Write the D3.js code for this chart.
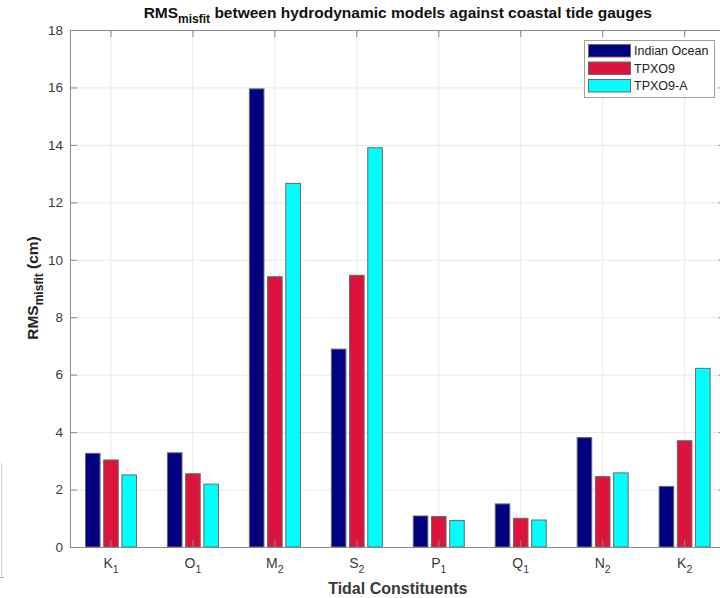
<!DOCTYPE html>
<html><head><meta charset="utf-8">
<script src="https://cdn.jsdelivr.net/npm/d3@7"></script>
<style>
html,body{margin:0;padding:0;background:#fff;overflow:hidden}
text{font-family:"Liberation Sans",Arial,Helvetica,sans-serif}
</style></head>
<body><svg id="c" width="720" height="598"></svg>
<script>
const categories = ["K1","O1","M2","S2","P1","Q1","N2","K2"];
const seriesNames = ["Indian Ocean","TPXO9","TPXO9-A"];
const indianOcean = [3.26, 3.28, 15.95, 6.89, 1.08, 1.50, 3.81, 2.11];
const tpxo9       = [3.03, 2.55, 9.41, 9.46, 1.06, 1.00, 2.45, 3.70];
const tpxo9A      = [2.51, 2.19, 12.66, 13.90, 0.92, 0.94, 2.58, 6.22];
const yTicks = [0,2,4,6,8,10,12,14,16,18];
const colors = ["#000080","#DC143C","#00FFFF"];

const seriesValues = [indianOcean, tpxo9, tpxo9A];
const data = categories.map((c,i)=>({cat:c, vals: seriesNames.map((s,j)=>({s, v: seriesValues[j][i], j}))}));

const svg = d3.select("#c");
const L = 70, R = 725.6, T = 30, B = 547;
const x0 = d3.scaleBand().domain(categories).range([L,R]).paddingInner(0).paddingOuter(0);
const bw = x0.bandwidth();
const x1 = d3.scaleBand().domain(seriesNames).range([bw*0.1667, bw*0.8333]).paddingInner(0.2).paddingOuter(0.1);
const y = d3.scaleLinear().domain([0,18]).range([B,T]);

const gridC = "#e8e8e8", axC = "#8a8a8a", txtC = "#3a3a3a";

// grid
const g = svg.append("g");
g.selectAll(".gy").data(yTicks).enter().append("line")
  .attr("x1",L).attr("x2",R).attr("y1",d=>y(d)+0.5).attr("y2",d=>y(d)+0.5)
  .attr("stroke",gridC).attr("stroke-width",1);
g.selectAll(".gx").data(categories).enter().append("line")
  .attr("x1",d=>x0(d)+bw/2).attr("x2",d=>x0(d)+bw/2).attr("y1",T).attr("y2",B)
  .attr("stroke",gridC).attr("stroke-width",1);

// bars
const groups = svg.append("g").selectAll("g").data(data).enter().append("g")
  .attr("transform",d=>`translate(${x0(d.cat)},0)`);
groups.selectAll("rect").data(d=>d.vals).enter().append("rect")
  .attr("x",d=>x1(d.s)).attr("width",x1.bandwidth())
  .attr("y",d=>y(d.v)).attr("height",d=>B - y(d.v))
  .attr("fill",d=>colors[d.j]).attr("stroke","#6a6a6a").attr("stroke-width",1);

// axes
const tl = 7;
const ax = svg.append("g").attr("fill","none").attr("stroke",axC).attr("stroke-width",1);
ax.append("rect").attr("x",L+0.5).attr("y",T+0.5).attr("width",R-L).attr("height",B-T);
ax.selectAll(".tyl").data(yTicks).enter().append("line")
  .attr("x1",L).attr("x2",L+tl).attr("y1",d=>y(d)+0.5).attr("y2",d=>y(d)+0.5);
ax.selectAll(".tyr").data(yTicks).enter().append("line")
  .attr("x1",R-tl).attr("x2",R).attr("y1",d=>y(d)+0.5).attr("y2",d=>y(d)+0.5);
ax.selectAll(".txb").data(categories).enter().append("line")
  .attr("x1",d=>x0(d)+bw/2).attr("x2",d=>x0(d)+bw/2).attr("y1",B).attr("y2",B-tl);
ax.selectAll(".txt").data(categories).enter().append("line")
  .attr("x1",d=>x0(d)+bw/2).attr("x2",d=>x0(d)+bw/2).attr("y1",T).attr("y2",T+tl);

// y tick labels
svg.append("g").selectAll("text").data(yTicks).enter().append("text")
  .attr("x",L-7).attr("y",d=>y(d)).attr("dy","0.35em").attr("text-anchor","end")
  .attr("font-size",13.5).attr("fill",txtC).text(d=>d);

// x tick labels with subscripts
const xl = svg.append("g").selectAll("text").data(categories).enter().append("text")
  .attr("x",d=>x0(d)+bw/2).attr("y",568).attr("text-anchor","middle")
  .attr("font-size",14).attr("fill",txtC);
xl.append("tspan").text(d=>d.slice(0,-1));
xl.append("tspan").attr("font-size",10.5).attr("dy",5).text(d=>d.slice(-1));

// x axis label
svg.append("text").attr("x",(L+R)/2).attr("y",594).attr("text-anchor","middle")
  .attr("font-size",16).attr("font-weight","bold").attr("fill",txtC).text("Tidal Constituents");

// y axis label
const yl = svg.append("text").attr("transform","translate(38,288) rotate(-90)")
  .attr("text-anchor","middle").attr("font-size",15.5).attr("font-weight","bold").attr("fill","#222");
yl.append("tspan").text("RMS");
yl.append("tspan").attr("font-size",12).attr("dy",5).text("misfit");
yl.append("tspan").attr("dy",-5).text(" (cm)");

// title
const tt = svg.append("text").attr("x",(L+R)/2 - 0).attr("y",18).attr("text-anchor","middle")
  .attr("font-size",15.5).attr("font-weight","bold").attr("fill","#111");
tt.append("tspan").text("RMS");
tt.append("tspan").attr("font-size",12).attr("dy",5).text("misfit");
tt.append("tspan").attr("dy",-5).text(" between hydrodynamic models against coastal tide gauges");

// legend
const lg = svg.append("g");
lg.append("rect").attr("x",584.5).attr("y",40.5).attr("width",130).attr("height",57)
  .attr("fill","#fff").attr("stroke","#a0a0a0");
const li = lg.selectAll(".li").data(seriesNames).enter().append("g")
  .attr("transform",(d,i)=>`translate(588,${44 + i*17.5})`);
li.append("rect").attr("x",0.5).attr("y",0.5).attr("width",42).attr("height",12.5)
  .attr("fill",(d,i)=>colors[i]).attr("stroke","#6a6a6a");
li.append("text").attr("x",46).attr("y",7).attr("dy","0.35em").attr("font-size",12.5)
  .attr("fill","#222").text(d=>d);

// cropped artifact at far left
svg.append("line").attr("x1",1.5).attr("x2",1.5).attr("y1",463).attr("y2",577).attr("stroke","#d0d0d0");
svg.append("line").attr("x1",0).attr("x2",4).attr("y1",577.5).attr("y2",577.5).attr("stroke","#b0b0b0");
</script>
</body></html>
